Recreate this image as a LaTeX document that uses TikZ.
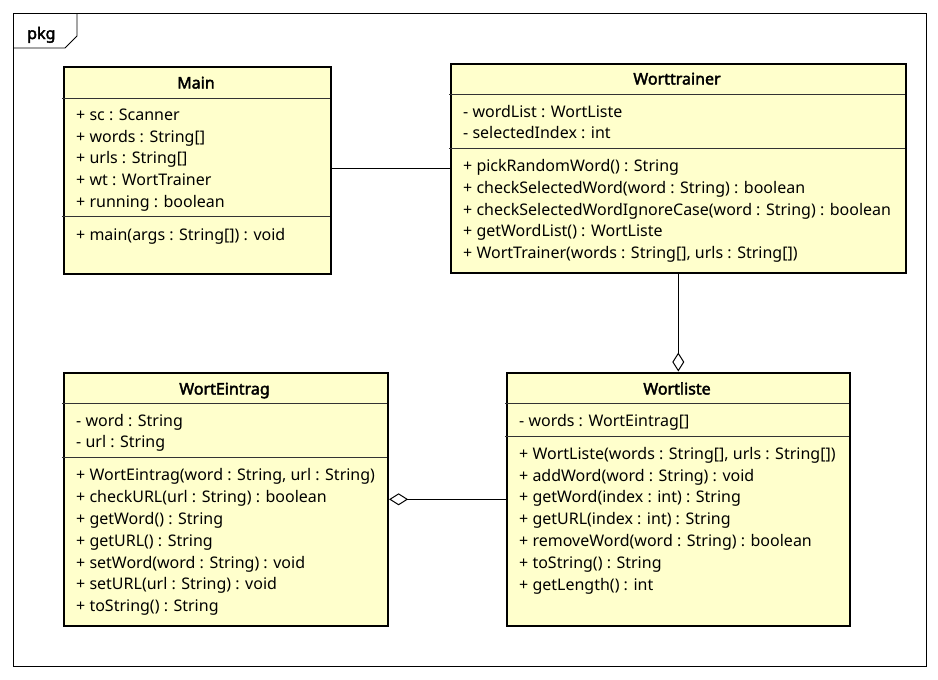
\documentclass[tikz,border=0pt]{standalone}
\usepackage{fontspec}
\setmainfont{Noto Sans}
\newfontfamily\titlefont{Noto Sans}[FakeBold=2.5]
\usetikzlibrary{arrows.meta}
\definecolor{classfill}{HTML}{FFFFCC}
\tikzset{
  classbox/.style={draw=black, line width=2.6pt, fill=classfill, anchor=north west, inner sep=0pt},
  sepline/.style={draw=black!80, line width=1pt},
  member/.style={anchor=base west, inner sep=0pt, font=\fontsize{16}{18}\selectfont},
  title/.style={anchor=base, inner sep=0pt, font=\titlefont\fontsize{16}{18}\selectfont},
  conn/.style={draw=black, line width=1pt},
  agg/.style={conn, -{Diamond[open, length=19pt, width=12pt, line width=1pt]}},
}
\begin{document}
\begin{tikzpicture}[x=1pt, y=-1pt]
\useasboundingbox (0,0) rectangle (938,680);
% package frame
\draw[line width=0.8pt] (13,13) rectangle (926,666);
\draw[line width=0.8pt] (13,48) -- (65,48) -- (77,36) -- (77,13);
\node[title, anchor=base west] (pkg) at (27,39) {pkg};

% Main
\node[classbox, minimum width=267pt, minimum height=207pt] (main) at (62.5,65.5) {};
\node[title] (mainT) at (196,88.5) {Main};
\draw[sepline] (62,98) -- (330,98);
\draw[sepline] (62,216) -- (330,216);
\node[member] (m1) at (76,120.5) {+ sc : Scanner};
\node[member] (m2) at (76,142.5) {+ words : String[]};
\node[member] (m3) at (76,163.5) {+ urls : String[]};
\node[member] (m4) at (76,185.5) {+ wt : WortTrainer};
\node[member] (m5) at (76,207.5) {+ running : boolean};
\node[member] (m6) at (76,240.5) {+ main(args : String[]) : void};

% Worttrainer
\node[classbox, minimum width=455pt, minimum height=209pt] (wt) at (449.5,62.5) {};
\node[title] (wtT) at (677,84.5) {Worttrainer};
\draw[sepline] (449,94) -- (905,94);
\draw[sepline] (449,148) -- (905,148);
\node[member] (t1) at (463,117.5) {- wordList : WortListe};
\node[member] (t2) at (463,138.5) {- selectedIndex : int};
\node[member] (t3) at (463,171.5) {+ pickRandomWord() : String};
\node[member] (t4) at (463,193.5) {+ checkSelectedWord(word : String) : boolean};
\node[member] (t5) at (463,215.5) {+ checkSelectedWordIgnoreCase(word : String) : boolean};
\node[member] (t6) at (463,236.5) {+ getWordList() : WortListe};
\node[member] (t7) at (463,258.5) {+ WortTrainer(words : String[], urls : String[])};

% WortEintrag
\node[classbox, minimum width=324pt, minimum height=253pt] (we) at (62.5,371.5) {};
\node[title] (weT) at (224.5,394.5) {WortEintrag};
\draw[sepline] (62,403) -- (387,403);
\draw[sepline] (62,457) -- (387,457);
\node[member] (e1) at (76,426.5) {- word : String};
\node[member] (e2) at (76,447.5) {- url : String};
\node[member] (e3) at (76,480.5) {+ WortEintrag(word : String, url : String)};
\node[member] (e4) at (76,502.5) {+ checkURL(url : String) : boolean};
\node[member] (e5) at (76,524.5) {+ getWord() : String};
\node[member] (e6) at (76,546.5) {+ getURL() : String};
\node[member] (e7) at (76,568.5) {+ setWord(word : String) : void};
\node[member] (e8) at (76,589.5) {+ setURL(url : String) : void};
\node[member] (e9) at (76,611.5) {+ toString() : String};

% Wortliste
\node[classbox, minimum width=343pt, minimum height=253pt] (wl) at (505.5,371.5) {};
\node[title] (wlT) at (677,394.5) {Wortliste};
\draw[sepline] (505,403) -- (849,403);
\draw[sepline] (505,436) -- (849,436);
\node[member] (l1) at (519,426.5) {- words : WortEintrag[]};
\node[member] (l2) at (519,459.5) {+ WortListe(words : String[], urls : String[])};
\node[member] (l3) at (519,481.5) {+ addWord(word : String) : void};
\node[member] (l4) at (519,502.5) {+ getWord(index : int) : String};
\node[member] (l5) at (519,524.5) {+ getURL(index : int) : String};
\node[member] (l6) at (519,546.5) {+ removeWord(word : String) : boolean};
\node[member] (l7) at (519,568.5) {+ toString() : String};
\node[member] (l8) at (519,590.5) {+ getLength() : int};

% connectors
\draw[conn] (main.east |- 0,168) -- (wt.west |- 0,168);
\draw[agg] (wt.south) -- (wl.north);
\draw[agg] (wl.west) -- (we.east);
\end{tikzpicture}
\end{document}
